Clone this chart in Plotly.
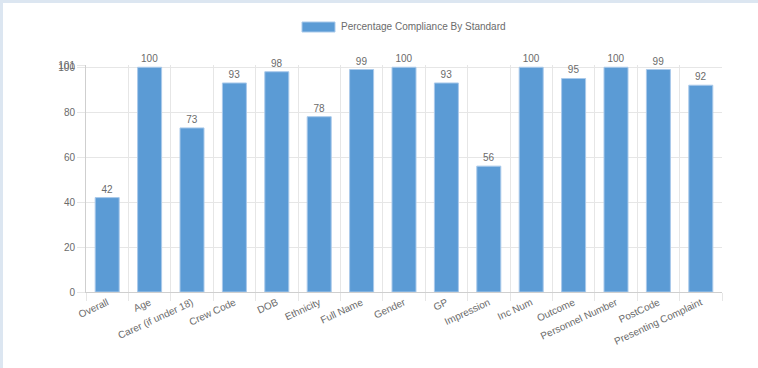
import plotly.graph_objects as go

categories = ["Overall", "Age", "Carer (if under 18)", "Crew Code", "DOB", "Ethnicity",
              "Full Name", "Gender", "GP", "Impression", "Inc Num", "Outcome",
              "Personnel Number", "PostCode", "Presenting Complaint"]
compliance = [42, 100, 73, 93, 98, 78, 99, 100, 93, 56, 100, 95, 100, 99, 92]
series_name = "Percentage Compliance By Standard"
y_ticks = [0, 20, 40, 60, 80, 100, 101]

W, H = 758, 368
L, R, T, B = 86, 36, 65, 76
pw, ph = W - L - R, H - T - B

def px_x(x):
    return (x - L) / pw

def px_y(y):
    return (H - B - y) / ph

bar_color = "#5b9bd5"
text_color = "#6b6b6b"
grid_color = "#e6e6e6"
frame_color = "#dce6f1"
font_family = "Liberation Sans, Arial"

fig = go.Figure(go.Bar(
    x=categories,
    y=compliance,
    name=series_name,
    marker=dict(color=bar_color, line=dict(color="#a9c9ea", width=1)),
    text=compliance,
    textposition="outside",
    textfont=dict(color=text_color, size=10, family=font_family),
    cliponaxis=False,
    showlegend=False,
))

shapes = [
    # light frame along the top and left edges
    dict(type="rect", xref="paper", yref="paper", x0=px_x(0), x1=px_x(W), y0=px_y(0), y1=px_y(3),
         fillcolor=frame_color, line=dict(width=0), layer="above"),
    dict(type="rect", xref="paper", yref="paper", x0=px_x(0), x1=px_x(3), y0=px_y(0), y1=px_y(H),
         fillcolor=frame_color, line=dict(width=0), layer="above"),
    # legend swatch
    dict(type="rect", xref="paper", yref="paper", x0=px_x(302), x1=px_x(335), y0=px_y(22), y1=px_y(32),
         fillcolor=bar_color, line=dict(color="#a9c9ea", width=1)),
]

annotations = [
    dict(xref="paper", yref="paper", x=px_x(339), y=px_y(26.5), xanchor="left", yanchor="middle",
         text=series_name, showarrow=False,
         font=dict(color=text_color, size=10, family=font_family)),
]

fig.update_layout(
    width=W, height=H,
    margin=dict(l=L, r=R, t=T, b=B),
    paper_bgcolor="white",
    plot_bgcolor="white",
    bargap=0.434,
    shapes=shapes,
    annotations=annotations,
    font=dict(family=font_family, color=text_color, size=10),
    xaxis=dict(
        tickson="boundaries",
        ticks="outside", ticklen=8, tickcolor=grid_color,
        showgrid=True, gridcolor=grid_color, gridwidth=1,
        showline=True, linecolor="#cfcfcf", linewidth=1, mirror=False,
        tickangle=-25,
        tickfont=dict(color=text_color, size=10),
        range=[-0.5, len(categories) - 0.5],
    ),
    yaxis=dict(
        range=[0, 101],
        tickvals=y_ticks,
        ticktext=[str(v) for v in y_ticks],
        ticks="outside", ticklen=8, tickcolor=grid_color,
        showgrid=True, gridcolor=grid_color, gridwidth=1,
        showline=True, linecolor="#cfcfcf", linewidth=1,
        zeroline=False,
        tickfont=dict(color=text_color, size=10),
    ),
)

fig.write_html("out.html")
